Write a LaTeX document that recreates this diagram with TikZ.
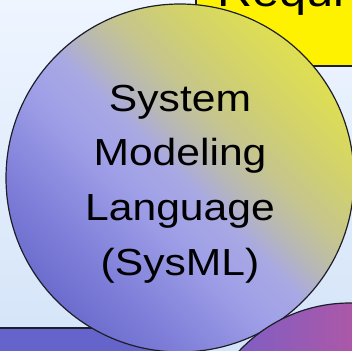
\documentclass[tikz,border=0pt]{standalone}
\usepackage{fontspec}
\setmainfont{Liberation Sans}
\definecolor{bgtop}{RGB}{238,245,255}
\definecolor{bgbot}{RGB}{212,228,248}
\definecolor{sA}{RGB}{108,108,206}
\definecolor{sB}{RGB}{128,128,218}
\definecolor{sC}{RGB}{160,160,232}
\definecolor{sD}{RGB}{168,168,228}
\definecolor{sE}{RGB}{185,185,178}
\definecolor{sF}{RGB}{198,198,140}
\definecolor{sG}{RGB}{208,208,112}
\definecolor{sH}{RGB}{220,220,88}
\definecolor{sI}{RGB}{222,222,84}
\definecolor{cblock}{RGB}{100,100,202}
\definecolor{mgL}{RGB}{112,96,206}
\definecolor{mgM}{RGB}{200,80,158}
\definecolor{mgR}{RGB}{230,80,130}
\definecolor{edge}{RGB}{30,30,40}
\pgfdeclareverticalshading{sysmlshade}{100bp}{color(0bp)=(sA); color(25bp)=(sA); color(33bp)=(sB); color(44.3bp)=(sC); color(50bp)=(sD); color(55bp)=(sE); color(59.9bp)=(sF); color(65.6bp)=(sG); color(72.6bp)=(sH); color(75bp)=(sI); color(100bp)=(sI)}
\begin{document}
\begin{tikzpicture}[x=1pt,y=-1pt,
  outline/.style={draw=edge, line width=1.2pt},
  bigtext/.style={font=\fontsize{37.7}{54.8}\selectfont, text=black, xscale=1.13, transform shape},
  reqfont/.style={font=\fontsize{43}{50}\selectfont, text=black, xscale=1.13, transform shape}]
\useasboundingbox (0,0) rectangle (352,350);
\clip (0,0) rectangle (352,350);
\shade[top color=bgtop, bottom color=bgbot] (0,0) rectangle (352,350);
% yellow requirements box (cut off)
\node[outline, fill=yellow, anchor=north west, minimum width=220pt, minimum height=100pt, inner sep=0pt, outer sep=0pt] (req) at (196,-34) {};
\node[reqfont, anchor=base west, inner sep=0pt] (reqtext) at (217,7) {Requi};
% blue block bottom left
\node[outline, fill=cblock, anchor=north west, minimum width=200pt, minimum height=60pt, inner sep=0pt, outer sep=0pt] (blk) at (-40,328) {};
% big SysML circle: gradient along the diagonal
\coordinate (c) at (180,178);
\begin{scope}
  \clip (c) circle (174pt);
  \shade[shading=sysmlshade, transform canvas={rotate around={-45:(c)}}] (6,4) rectangle (354,352);
\end{scope}
\node[outline, circle, minimum size=348pt, inner sep=0pt] (sysml) at (c) {};
\node[bigtext, align=center, inner sep=0pt] (label) at (c) [yshift=-6pt] {System\\Modeling\\Language\\(SysML)};
% magenta circle bottom right
\node[outline, circle, left color=mgL, middle color=mgM, right color=mgR, minimum size=304pt, inner sep=0pt] (mag) at (350,455) {};
\end{tikzpicture}
\end{document}
